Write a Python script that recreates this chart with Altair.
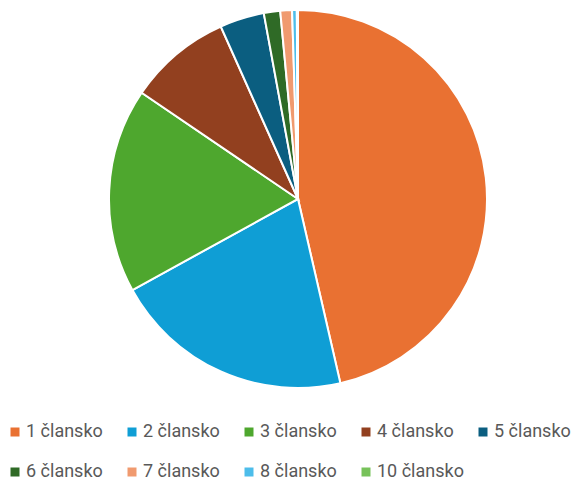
import altair as alt
import pandas as pd

categories = ["1 člansko", "2 člansko", "3 člansko", "4 člansko", "5 člansko",
              "6 člansko", "7 člansko", "8 člansko", "10 člansko"]
values = [46.4, 20.6, 17.5, 8.8, 3.8, 1.4, 1.0, 0.4, 0.1]
colors = ["#E97132", "#0F9ED5", "#4EA72E", "#92401F", "#0B5E80",
          "#2F6A26", "#F09A6F", "#4DBDEA", "#77C25A"]

df = pd.DataFrame({"cat": categories, "val": values, "order": list(range(len(values)))})

chart = alt.Chart(df).mark_arc(radius=189, stroke="white", strokeWidth=2).encode(
    theta=alt.Theta("val:Q", stack=True),
    order=alt.Order("order:Q"),
    x=alt.value(290),
    y=alt.value(191),
    color=alt.Color(
        "cat:N",
        sort=categories,
        scale=alt.Scale(domain=categories, range=colors),
        legend=alt.Legend(
            title=None, orient="none", legendX=-2, legendY=415,
            direction="horizontal", columns=5, gridAlign="all",
            symbolType="square", symbolSize=81, symbolStrokeWidth=0,
            labelFont="Roboto", labelFontSize=18, labelColor="#595959",
            labelOffset=2, columnPadding=10, rowPadding=22,
        ),
    ),
).properties(width=570, height=475, autosize="none", padding=0).configure_view(stroke=None)

chart.save("out.html", embed_options={"renderer": "svg", "actions": False})
